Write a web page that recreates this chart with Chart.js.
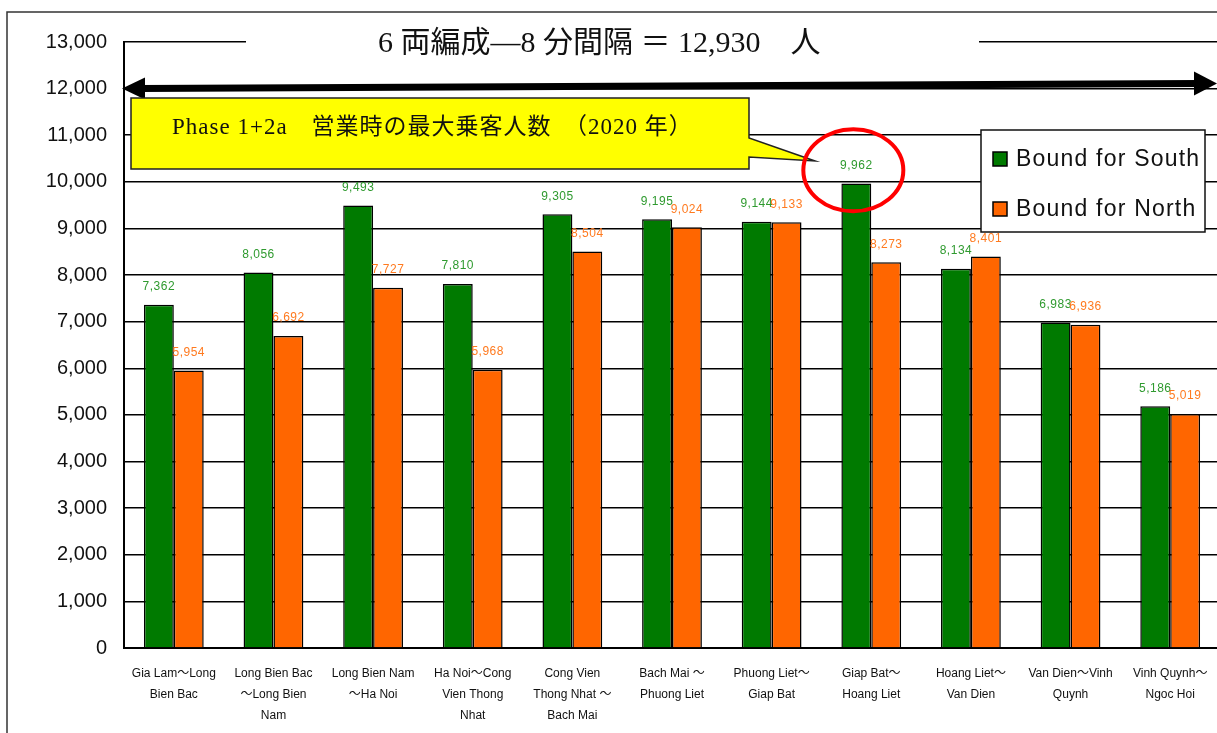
<!DOCTYPE html>
<html>
<head>
<meta charset="utf-8">
<script src="https://cdn.jsdelivr.net/npm/chart.js@4"></script>
<style>
    body { margin: 0; overflow: hidden; background: #fff; }
    #grafica { display: block; }
</style>
</head>
<body>
<canvas id="grafica" width="1220" height="733"></canvas>
<script>
// Datos
const tramos = [
    ['Gia Lam～Long', 'Bien Bac'],
    ['Long Bien Bac', '～Long Bien', 'Nam'],
    ['Long Bien Nam', '～Ha Noi'],
    ['Ha Noi～Cong', 'Vien Thong', 'Nhat'],
    ['Cong Vien', 'Thong Nhat ～', 'Bach Mai'],
    ['Bach Mai ～', 'Phuong Liet'],
    ['Phuong Liet～', 'Giap Bat'],
    ['Giap Bat～', 'Hoang Liet'],
    ['Hoang Liet～', 'Van Dien'],
    ['Van Dien～Vinh', 'Quynh'],
    ['Vinh Quynh～', 'Ngoc Hoi']
];
const haciaSur = [7362, 8056, 9493, 7810, 9305, 9195, 9144, 9962, 8134, 6983, 5186];
const haciaNorte = [5954, 6692, 7727, 5968, 8504, 9024, 9133, 8273, 8401, 6936, 5019];
const ejeMax = 13000;
const ejePaso = 1000;
const capacidad = 12000; // línea de la flecha doble

const titulo = '6 両編成―8 分間隔 ＝ 12,930　人';
const nota = 'Phase 1+2a　営業時の最大乗客人数　（2020 年）';

const verde = '#007a00';
const naranja = '#ff6600';

// Dibujos extra: marco, título, flecha, globo amarillo, círculo, leyenda, etiquetas
const extras = {
    id: 'extras',
    beforeDraw(chart) {
        const ctx = chart.ctx;
        ctx.save();
        ctx.fillStyle = '#fff';
        ctx.fillRect(0, 0, chart.width, chart.height);
        ctx.strokeStyle = '#333';
        ctx.lineWidth = 1.5;
        ctx.beginPath();
        ctx.moveTo(7, 733);
        ctx.lineTo(7, 12);
        ctx.lineTo(chart.width, 12);
        ctx.stroke();
        ctx.restore();
    },
    afterDraw(chart) {
        const ctx = chart.ctx;
        const y = chart.scales.y;
        const area = chart.chartArea;
        ctx.save();

        // Título sobre la línea de 13,000
        const yTop = y.getPixelForValue(ejeMax);
        ctx.fillStyle = '#fff';
        ctx.fillRect(246, yTop - 16, 733, 32);
        ctx.fillStyle = '#111';
        ctx.font = '30px "Liberation Serif", "Noto Sans CJK JP"';
        ctx.textAlign = 'left';
        ctx.textBaseline = 'middle';
        ctx.fillText(titulo, 378, yTop + 2);

        // Flecha doble
        const yA = y.getPixelForValue(capacidad);
        const x0 = area.left - 2, x1 = 1217;
        const yL = yA, yR = yA - 5;
        ctx.strokeStyle = '#000';
        ctx.fillStyle = '#000';
        ctx.lineWidth = 7;
        ctx.beginPath();
        ctx.moveTo(x0 + 18, yL);
        ctx.lineTo(x1 - 18, yR);
        ctx.stroke();
        ctx.beginPath();
        ctx.moveTo(x0, yL);
        ctx.lineTo(x0 + 23, yL - 11);
        ctx.lineTo(x0 + 23, yL + 11);
        ctx.closePath();
        ctx.fill();
        ctx.beginPath();
        ctx.moveTo(x1, yR);
        ctx.lineTo(x1 - 23, yR - 12);
        ctx.lineTo(x1 - 23, yR + 12);
        ctx.closePath();
        ctx.fill();

        // Globo amarillo con cola
        ctx.fillStyle = '#ffff00';
        ctx.strokeStyle = '#222';
        ctx.lineWidth = 1.5;
        ctx.beginPath();
        ctx.moveTo(131, 98);
        ctx.lineTo(749, 98);
        ctx.lineTo(749, 138);
        ctx.lineTo(815, 161);
        ctx.lineTo(749, 157);
        ctx.lineTo(749, 169);
        ctx.lineTo(131, 169);
        ctx.closePath();
        ctx.fill();
        ctx.stroke();
        ctx.fillStyle = '#111';
        ctx.font = '23px "Liberation Serif", "Noto Sans CJK JP"';
        ctx.letterSpacing = '1px';
        ctx.fillText(nota, 172, 128);
        ctx.letterSpacing = '0px';

        // Círculo rojo sobre el máximo
        const barra = chart.getDatasetMeta(0).data[7];
        ctx.strokeStyle = '#ff0000';
        ctx.lineWidth = 4;
        ctx.beginPath();
        ctx.ellipse(barra.x - 3, y.getPixelForValue(10250), 50, 41, 0, 0, Math.PI * 2);
        ctx.stroke();

        // Etiquetas de valores
        ctx.font = '12px "Liberation Sans", "DejaVu Sans"';
        ctx.letterSpacing = '0.5px';
        ctx.textAlign = 'center';
        ctx.textBaseline = 'middle';
        const coloresTexto = ['#2f9a2f', '#ff7a1f'];
        chart.data.datasets.forEach((ds, i) => {
            ctx.fillStyle = coloresTexto[i];
            chart.getDatasetMeta(i).data.forEach((el, j) => {
                ctx.fillText(ds.data[j].toLocaleString('en-US'), el.x, el.y - 18);
            });
        });

        // Leyenda
        ctx.fillStyle = '#fff';
        ctx.strokeStyle = '#111';
        ctx.lineWidth = 1.5;
        ctx.fillRect(981, 130, 224, 102);
        ctx.strokeRect(981, 130, 224, 102);
        ctx.font = '23px "Liberation Sans", "DejaVu Sans"';
        ctx.letterSpacing = '1.2px';
        ctx.textAlign = 'left';
        chart.data.datasets.forEach((ds, i) => {
            const yy = 159 + i * 50;
            ctx.fillStyle = ds.backgroundColor;
            ctx.fillRect(993, yy - 7, 14, 14);
            ctx.strokeStyle = '#000';
            ctx.strokeRect(993, yy - 7, 14, 14);
            ctx.fillStyle = '#111';
            ctx.fillText(ds.label, 1016, yy + 1);
        });

        ctx.restore();
    }
};

const ctx = document.getElementById('grafica').getContext('2d');
new Chart(ctx, {
    type: 'bar',
    data: {
        labels: tramos,
        datasets: [
            {
                label: 'Bound for South',
                data: haciaSur,
                backgroundColor: verde,
                borderColor: '#000',
                borderWidth: 1.5
            },
            {
                label: 'Bound for North',
                data: haciaNorte,
                backgroundColor: naranja,
                borderColor: '#000',
                borderWidth: 1.5
            }
        ]
    },
    options: {
        responsive: false,
        animation: false,
        devicePixelRatio: 1,
        categoryPercentage: 0.6,
        barPercentage: 1.0,
        layout: { padding: { top: 42, right: 0, bottom: 0, left: 0 } },
        plugins: {
            legend: { display: false },
            tooltip: { enabled: false }
        },
        scales: {
            y: {
                min: 0,
                max: ejeMax,
                ticks: {
                    stepSize: ejePaso,
                    color: '#111',
                    padding: 17,
                    font: { size: 20, family: '"Liberation Sans", "DejaVu Sans"' },
                    callback: v => v.toLocaleString('en-US')
                },
                grid: { color: '#000', lineWidth: 1.5, drawTicks: false },
                border: { color: '#000', width: 2 },
                afterFit: s => { s.width = 124; }
            },
            x: {
                grid: { display: false },
                border: { color: '#000', width: 2 },
                ticks: {
                    color: '#111',
                    maxRotation: 0,
                    autoSkip: false,
                    padding: 7,
                    font: { size: 12, family: '"Liberation Sans", "Noto Sans CJK JP"', lineHeight: 1.75 }
                },
                afterFit: s => { s.height = 85; }
            }
        }
    },
    plugins: [extras]
});
</script>
</body>
</html>
